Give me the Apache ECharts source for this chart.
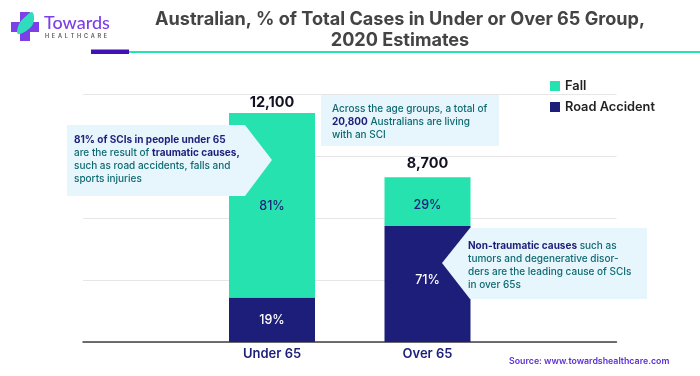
<!DOCTYPE html>
<html>
<head>
<meta charset="utf-8">
<style>html,body{margin:0;padding:0;background:#fff}#c{width:700px;height:376px}</style>
<script src="https://cdn.jsdelivr.net/npm/echarts@6/dist/echarts.min.js"></script>
</head>
<body>
<div id="c"></div>
<script>
const categories = ['Under 65', 'Over 65'];
const roadAccident = [2350, 6127];
const fall = [9750, 2573];
const totals = [12100, 8700];
const roadLabels = ['19%', '71%'];
const fallLabels = ['81%', '29%'];
const axisMax = 13100;
const axisStep = 3275;

const FONT = 'Inter';
const NAVY = '#1d1e7a';
const MINT = '#25e2ae';
const TEAL = '#0e6a70';
const PALE = '#e7f5fd';
const roadNudge = [0, -4];
const fallNudge = [1.5, 4];
const totalNudge = [0, -3];
const nudged = (values, nudge) => values.map((value, i) => ({value, label: {offset: [0, nudge[i]]}}));
const rich = {
  b: {fontFamily: FONT, fontWeight: 700, fontSize: 10, fill: NAVY, lineHeight: 13},
  t: {fontFamily: FONT, fontWeight: 500, fontSize: 10, fill: TEAL, lineHeight: 13}
};
const note = (x, y, text) => ({
  type: 'text', x, y, z: 102,
  style: {text, rich, fontFamily: FONT, fontSize: 10, fill: TEAL, lineHeight: 13, textAlign: 'left', textVerticalAlign: 'top'}
});
const poly = (points, fill, z, smooth) => ({type: 'polygon', z: z || 100, shape: {points, smooth: smooth || 0}, style: {fill}});

const chart = echarts.init(document.getElementById('c'), null, {renderer: 'canvas'});
chart.setOption({
  animation: false,
  backgroundColor: '#fff',
  title: {
    text: 'Australian, % of Total Cases in Under or Over 65 Group,\n2020 Estimates',
    left: 400, top: 9.5, textAlign: 'center', padding: 0,
    textStyle: {fontFamily: FONT, fontWeight: 700, fontSize: 18.1, color: '#444444', lineHeight: 21}
  },
  legend: {
    data: ['Fall', 'Road Accident'], orient: 'vertical', left: 550, top: 78, padding: 0,
    itemWidth: 10, itemHeight: 10, itemGap: 5,
    icon: 'rect',
    textStyle: {fontFamily: FONT, fontWeight: 600, fontSize: 12.8, color: '#222', height: 16, lineHeight: 16}
  },
  grid: [
    {left: 194.25, width: 311, top: 94, height: 248},
    {left: 83, width: 533.5, top: 94, height: 248}
  ],
  xAxis: [
    {type: 'category', gridIndex: 0, data: categories, axisLine: {show: false}, axisTick: {show: false},
     axisLabel: {fontFamily: FONT, fontWeight: 600, fontSize: 13, color: NAVY, margin: 6}},
    {type: 'category', gridIndex: 1, data: [''], axisLine: {show: true, lineStyle: {color: '#3f3f46', width: 1.5}}, axisTick: {show: false}, axisLabel: {show: false}}
  ],
  yAxis: [
    {type: 'value', gridIndex: 0, min: 0, max: axisMax, interval: axisStep, show: false},
    {type: 'value', gridIndex: 1, min: 0, max: axisMax, interval: axisStep, axisLine: {show: false}, axisTick: {show: false},
     axisLabel: {show: false}, splitLine: {show: true, lineStyle: {color: '#e6e6e6', width: 1}}}
  ],
  series: [
    {name: 'Road Accident', type: 'bar', stack: 'a', barWidth: 86, z: 3, itemStyle: {color: NAVY}, data: nudged(roadAccident, roadNudge),
     label: {show: true, position: 'inside', fontFamily: FONT, fontWeight: 500, fontSize: 12.5, color: '#fff',
       formatter: p => roadLabels[p.dataIndex]}},
    {name: 'Fall', type: 'bar', stack: 'a', barWidth: 86, z: 3, itemStyle: {color: MINT}, data: nudged(fall, fallNudge),
     label: {show: true, position: 'inside', fontFamily: FONT, fontWeight: 500, fontSize: 12.5, color: NAVY,
       formatter: p => fallLabels[p.dataIndex]}},
    {name: 'Total', type: 'scatter', symbolSize: 0, data: nudged(totals, totalNudge), z: 4, itemStyle: {opacity: 1},
     label: {show: true, position: 'top', distance: 3, fontFamily: FONT, fontWeight: 700, fontSize: 14.5, color: '#111122',
       formatter: p => totals[p.dataIndex].toLocaleString('en-US')}}
  ],
  graphic: [
    {type: 'rect', z: 100, shape: {x: 129, y: 51, width: 571, height: 2}, style: {fill: MINT}},
    {type: 'rect', z: 100, shape: {x: 91, y: 49.5, width: 38, height: 4.5}, style: {fill: '#3f12b5'}},
    poly([[20,12],[30,12],[30,22],[39,22],[39,32],[30,32],[30,41],[20,41],[20,32],[11,32],[11,22],[20,22]], '#7c3fe8'),
    poly([[18,34],[19,24],[25,17],[32,12],[34,20],[30,28]], '#2fdcbc', 101, 0.4),
    {type: 'text', z: 100, x: 44, y: 14, style: {text: 'Towards', fontFamily: 'Lato', fontWeight: 500, fontSize: 18, fill: '#7c3fe8'}},
    {type: 'text', z: 100, x: 45, y: 33, style: {text: 'H  E  A  L  T  H  C  A  R  E', fontFamily: FONT, fontWeight: 600, fontSize: 5.5, fill: '#555'}},
    poly([[67,125],[245,125],[272,160],[245,196],[67,196]], PALE),
    note(74, 133, '{b|81% of SCIs in people under 65}\n{t|are the result of }{b|traumatic causes,}\n{t|such as road accidents, falls and}\n{t|sports injuries}'),
    poly([[321,95],[499,95],[499,146],[321,146]], PALE),
    note(332, 102, '{t|Across the age groups, a total of}\n{b|20,800}{t| Australians are living}\n{t|with an SCI}'),
    poly([[442,263],[470,228],[647,228],[647,299],[470,299]], PALE),
    note(468, 239, '{b|Non-traumatic causes}{t| such as}\n{t|tumors and degenerative disor-}\n{t|ders are the leading cause of SCIs}\n{t|in over 65s}'),
    {type: 'text', z: 100, x: 509, y: 357, style: {text: 'Source: www.towardshealthcare.com', fontFamily: FONT, fontWeight: 600, fontSize: 8.8, fill: '#5a2ed6'}}
  ]
});
</script>
</body>
</html>
